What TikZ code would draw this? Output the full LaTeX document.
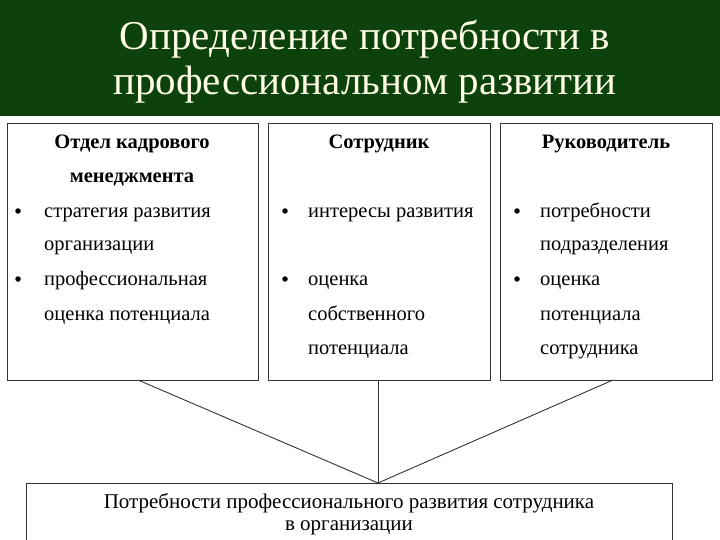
\documentclass[tikz,border=0pt]{standalone}
\usepackage{fontspec}
\setmainfont{Liberation Serif}
\begin{document}
\begin{tikzpicture}[x=1pt,y=-1pt,
  box/.style={draw=black!80,line width=1pt,fill=white},
  txt/.style={anchor=base west,inner sep=0pt,yshift=-6.5pt,font=\fontsize{20.5}{20.5}\selectfont},
  hdr/.style={anchor=base,inner sep=0pt,yshift=-6.5pt,font=\fontsize{20.5}{20.5}\selectfont\bfseries},
  bul/.style={circle,fill=black,inner sep=0pt,minimum size=5.5pt},
  link/.style={draw=black!80,line width=0.9pt}]
\useasboundingbox (0,0) rectangle (720,540);
\fill[white] (0,0) rectangle (720,540);
\fill[green!22!black!95] (0,0) rectangle (720,116);
\node[text=white!90!yellow,font=\fontsize{41}{45}\selectfont,align=center] (title) at (365,62) {Определение потребности в\\профессиональном развитии};
\node[box,minimum width=251pt,minimum height=257pt,anchor=north west] (b1) at (7,123) {};
\node[box,minimum width=222pt,minimum height=257pt,anchor=north west] (b2) at (268,123) {};
\node[box,minimum width=212pt,minimum height=257pt,anchor=north west] (b3) at (500,123) {};
\node[box,minimum width=646pt,minimum height=70pt,anchor=north west] (b4) at (26,483) {};
\coordinate (apex) at (378,483);
\coordinate (s1) at (138,380);
\coordinate (s3) at (613,380);
\coordinate (s2) at (378,380);
\draw[link] (s1) -- (apex);
\draw[link] (s2) -- (apex);
\draw[link] (s3) -- (apex);
% box 1
\node[hdr] (h1a) at (132,142) {Отдел кадрового};
\node[hdr] (h1b) at (132,176) {менеджмента};
\node[bul] (p1) at (18,211) {};
\node[txt] (t1a) at (44,211) {стратегия развития};
\node[txt] (t1b) at (44,244) {организации};
\node[bul] (p2) at (18,279) {};
\node[txt] (t1c) at (44,279) {профессиональная};
\node[txt] (t1d) at (44,314) {оценка потенциала};
% box 2
\node[hdr] (h2) at (379,142) {Сотрудник};
\node[bul] (p3) at (285,211) {};
\node[txt] (t2a) at (308,211) {интересы развития};
\node[bul] (p4) at (285,279) {};
\node[txt] (t2b) at (308,279) {оценка};
\node[txt] (t2c) at (308,314) {собственного};
\node[txt] (t2d) at (308,348) {потенциала};
% box 3
\node[hdr] (h3) at (606,142) {Руководитель};
\node[bul] (p5) at (517,211) {};
\node[txt] (t3a) at (540,211) {потребности};
\node[txt] (t3b) at (540,244) {подразделения};
\node[bul] (p6) at (517,279) {};
\node[txt] (t3c) at (540,279) {оценка};
\node[txt] (t3d) at (540,314) {потенциала};
\node[txt] (t3e) at (540,348) {сотрудника};
% bottom
\node[inner sep=0pt,align=center,font=\fontsize{21}{22}\selectfont] (bt) at (349,514) {Потребности профессионального развития сотрудника\\в организации};
\end{tikzpicture}
\end{document}
